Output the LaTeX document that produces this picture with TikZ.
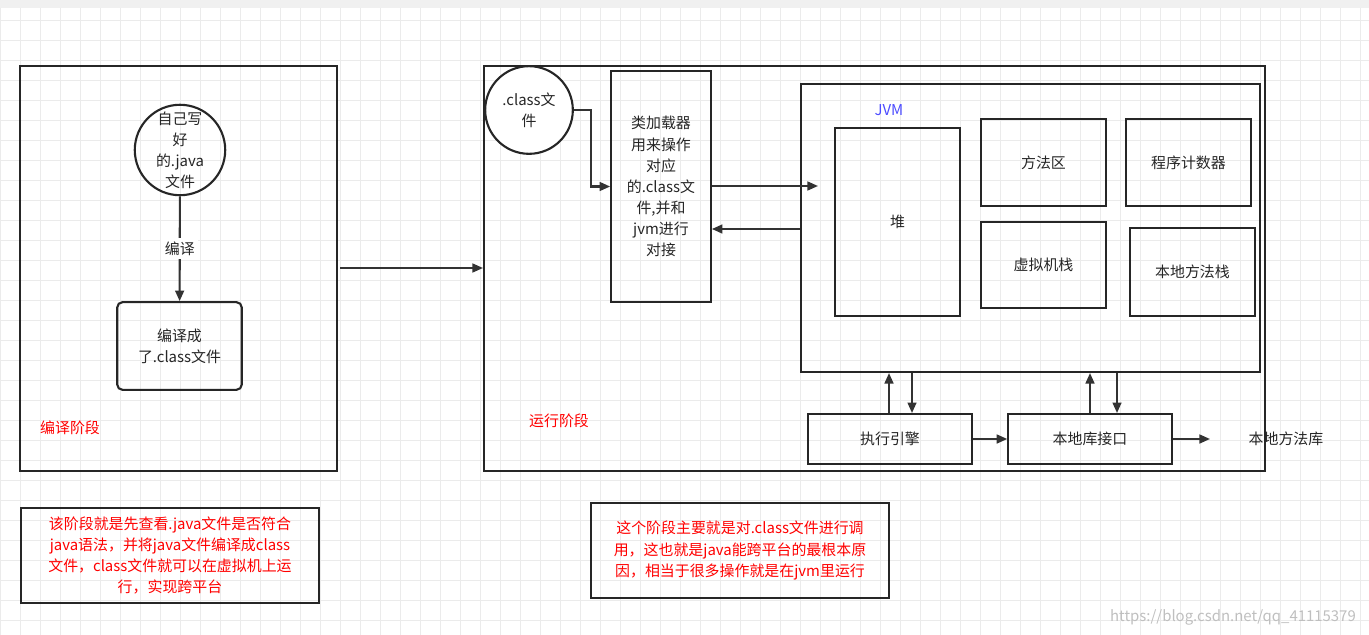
\documentclass[tikz,border=0pt]{standalone}
\usepackage{fontspec}
\setmainfont{Noto Sans CJK SC}
\usetikzlibrary{positioning,arrows.meta}
\tikzset{
  blk/.style={draw=black!85,line width=1.2pt,inner sep=0pt},
  arr/.style={-{Triangle[length=6pt,width=5pt]},line width=1.2pt,black!80},
  txt/.style={font=\fontsize{8.5}{12}\selectfont,align=center,text=black!85},
  red txt/.style={txt,text=red},
}
\begin{document}
\begin{tikzpicture}[x=0.02cm,y=-0.02cm]
\useasboundingbox (0,0) rectangle (1369,635);
% background grid
\fill[white] (0,0) rectangle (1369,635);
\fill[black!6] (0,0) rectangle (1369,8);
\foreach \g in {0,20,...,1360} \draw[black!8,line width=0.3pt] (\g,8) -- (\g,635);
\foreach \g in {20,40,...,630} \draw[black!8,line width=0.3pt] (0,\g) -- (1369,\g);

% compile stage
\draw[blk] (20,66) rectangle (337,471);
\node[blk,circle,minimum size=88pt*0.567,txt] (src) at (180,150) {自己写\\好\\的.java\\文件};
\node[blk,rounded corners=3pt,minimum width=125*0.567pt,minimum height=88*0.567pt,txt] (cls) at (179.5,346) {编译成\\了.class文件};
\draw[arr] (src) -- node[fill=white,txt,inner sep=2pt] {编译} (cls);
\node[red txt] (stage1) at (70,428) {编译阶段};
\coordinate (out1) at (340,268);
\coordinate (in2) at (483,268);
\draw[arr] (out1) -- (in2);

% run stage
\draw[blk] (484,66) rectangle (1265,471);
\node[blk,circle,minimum size=88pt*0.567,fill=white,txt] (cfile) at (529,110) {.class文\\件};
\node[blk,minimum width=100*0.567pt,minimum height=231*0.567pt,txt] (loader) at (661,186.5) {类加载器\\用来操作\\对应\\的.class文\\件,并和\\jvm进行\\对接};
\draw[arr] (cfile.east) -- ++(17,0) |- (loader.west);
\draw[blk] (801,84) rectangle (1260,372);
\coordinate (jvmin) at (818,186);
\coordinate (jvmout) at (800,229);
\draw[arr] (loader.east |- jvmin) -- (jvmin);
\draw[arr] (jvmout) -- (loader.east |- jvmout);
\node[txt,text=blue!70] (jvm) at (889,110) {JVM};
\node[blk,minimum width=125*0.567pt,minimum height=188*0.567pt,txt] (heap) at (897.5,222) {堆};
\node[blk,minimum width=125*0.567pt,minimum height=87*0.567pt,txt] (method) at (1043.5,162.5) {方法区};
\node[blk,minimum width=125*0.567pt,minimum height=87*0.567pt,txt] (pc) at (1188.5,162.5) {程序计数器};
\node[blk,minimum width=125*0.567pt,minimum height=86*0.567pt,txt] (vstack) at (1043.5,265) {虚拟机栈};
\node[blk,minimum width=125*0.567pt,minimum height=88*0.567pt,txt] (nstack) at (1192.5,272) {本地方法栈};
\node[blk,minimum width=164*0.567pt,minimum height=50*0.567pt,txt] (engine) at (890,439) {执行引擎};
\node[blk,minimum width=164*0.567pt,minimum height=50*0.567pt,txt] (native) at (1090,439) {本地库接口};
\node[txt] (lib) at (1286,439) {本地方法库};
% jvm bottom points
\coordinate (up1) at (889,373);
\coordinate (dn1) at (912,373);
\coordinate (up2) at (1090,373);
\coordinate (dn2) at (1117,373);
\draw[arr] (up1 |- engine.north) -- (up1);
\draw[arr] (dn1) -- (dn1 |- engine.north);
\draw[arr] (up2 |- native.north) -- (up2);
\draw[arr] (dn2) -- (dn2 |- native.north);
\draw[arr] (engine) -- (native);
\coordinate (libin) at (1210,439);
\draw[arr] (native.east) -- (libin);
\node[red txt] (stage2) at (559,421) {运行阶段};

% notes
\node[blk,minimum width=300*0.567pt,minimum height=95*0.567pt,red txt] (note1) at (170,555.5) {该阶段就是先查看.java文件是否符合\\java语法，并将java文件编译成class\\文件，class文件就可以在虚拟机上运\\行，实现跨平台};
\node[blk,minimum width=300*0.567pt,minimum height=95*0.567pt,red txt] (note2) at (740,550.5) {这个阶段主要就是对.class文件进行调\\用，这也就是java能跨平台的最根本原\\因，相当于很多操作就是在jvm里运行};
\node[txt,text=black!25,anchor=east] (mark) at (1362,617) {https://blog.csdn.net/qq\_41115379};
\end{tikzpicture}
\end{document}
